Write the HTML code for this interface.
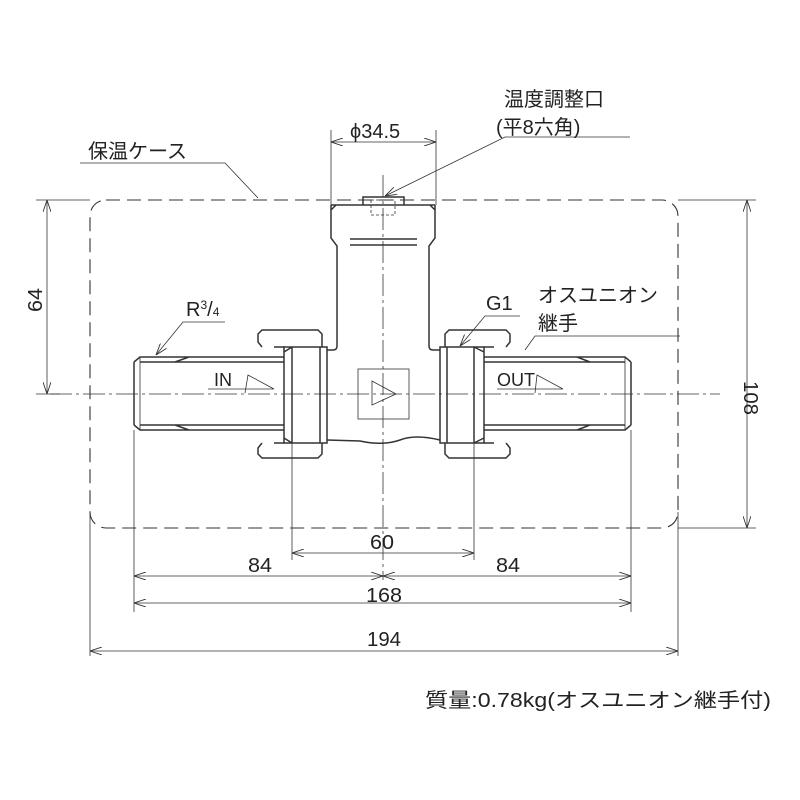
<!DOCTYPE html>
<html><head><meta charset="utf-8"><style>
html,body{margin:0;padding:0;background:#fff}
svg{display:block}
text{font-family:"Liberation Sans","Noto Sans CJK JP",sans-serif;fill:#222}
</style></head><body>
<svg width="800" height="800" viewBox="0 0 800 800" xmlns="http://www.w3.org/2000/svg">
<defs>
<marker id="a" viewBox="0 0 12 8" refX="12" refY="4" markerWidth="12" markerHeight="8" orient="auto-start-reverse" markerUnits="userSpaceOnUse">
<path d="M0,0 L12,4 L0,8" fill="none" stroke="#333" stroke-width="0.9"/></marker>
</defs>
<g fill="none" stroke="#333" stroke-width="1">
<rect x="90" y="200" width="588" height="328" rx="16" stroke-dasharray="14,7" stroke-width="1.1"/>
<line x1="50" y1="394" x2="720" y2="394" stroke-width="0.8" stroke-dasharray="22,4,3,4"/>
<line x1="383" y1="175" x2="383" y2="580" stroke-width="0.8" stroke-dasharray="22,4,3,4"/>
<g stroke-width="1.5">
<path d="M331,210 L336,205 M435,210 L430,205 M331,205 L435,205 M331,205 L331,238 L337,246 L337,346 Q337,350 333,350 L327,350 M435,205 L435,238 L429,246 L429,346 Q429,350 433,350 L440,350"/>
<path d="M363,205 L363,197 L404,197 L404,205"/>
<line x1="350" y1="239" x2="417" y2="239"/><line x1="350" y1="245" x2="417" y2="245"/>
<path d="M327,440 L360,441 Q383,446 400,440 Q415,434 440,440"/>
<path d="M189,357 L284,357 M189,430 L284,430 M134,362 L134,425 M134,362 L140,357 L189,357 M134,425 L140,430 L189,430 M140,362 L284,362 M140,425 L284,425 M175,362 L189,357 M175,425 L189,430"/>
<path d="M262,347 L258,342 L258,334 L262,330 L318,330 L322,334 L322,347 M262,443 L258,448 L258,454 L262,458 L318,458 L322,454 L322,443"/>
<path d="M284,347 L327,347 L327,443 L284,443 Z M292,347 L292,443 M284,352 L292,347 M284,438 L292,443 M320,347 L320,443"/>
<line x1="274" y1="347" x2="284" y2="347"/><line x1="274" y1="443" x2="284" y2="443"/>
<path d="M445,347 L445,334 L449,330 L506,330 L510,334 L510,342 L506,347 M445,443 L445,454 L449,458 L506,458 L510,454 L510,448 L506,443"/>
<path d="M440,347 L484,347 L484,443 L440,443 Z M474,347 L474,443 M484,352 L474,347 M484,438 L474,443 M447,347 L447,443"/>
<line x1="484" y1="347" x2="494" y2="347"/><line x1="484" y1="443" x2="494" y2="443"/>
<path d="M484,357 L577,357 M484,430 L577,430 M631,362 L631,425 M631,362 L625,357 L577,357 M631,425 L625,430 L577,430 M484,362 L625,362 M484,425 L625,425 M590,362 L577,357 M590,425 L577,430"/>
</g>
<line x1="140" y1="357" x2="140" y2="430" stroke-width="0.8"/>
<line x1="625" y1="357" x2="625" y2="430" stroke-width="0.8"/>
<rect x="371" y="200" width="24" height="15" stroke-dasharray="3,2" stroke-width="0.8"/>
<rect x="358" y="369" width="51" height="50" stroke-width="0.8"/>
<path d="M372,381 L396,394 L372,405 Z" stroke-width="0.8"/>
<path d="M208,389 L274,389 L248,375 L245,393" stroke-width="0.8"/>
<path d="M497,389 L563,389 L537,375 L535,393" stroke-width="0.8"/>
<path d="M225,322 L183,322 L156,355" stroke-width="0.8" marker-end="url(#a)"/>
<path d="M520,316 L485,316 L460,346" stroke-width="0.8" marker-end="url(#a)"/>
<path d="M680,336 L535,336 L525,350" stroke-width="0.8"/>
<path d="M630,137 L505,137 L385,196" stroke-width="0.8" marker-end="url(#a)"/>
<path d="M80,163 L225,163 L258,198" stroke-width="0.8"/>
<g stroke-width="0.8">
<line x1="331" y1="130" x2="331" y2="205"/><line x1="436" y1="130" x2="436" y2="205"/>
<line x1="331" y1="142" x2="436" y2="142" marker-start="url(#a)" marker-end="url(#a)"/>
<line x1="36" y1="200" x2="90" y2="200"/><line x1="36" y1="394" x2="60" y2="394"/>
<line x1="47" y1="200" x2="47" y2="394" marker-start="url(#a)" marker-end="url(#a)"/>
<line x1="678" y1="200" x2="756" y2="200"/><line x1="678" y1="528" x2="756" y2="528"/>
<line x1="747" y1="200" x2="747" y2="528" marker-start="url(#a)" marker-end="url(#a)"/>
<line x1="292" y1="443" x2="292" y2="560"/><line x1="474" y1="443" x2="474" y2="560"/>
<line x1="292" y1="553" x2="474" y2="553" marker-start="url(#a)" marker-end="url(#a)"/>
<line x1="134" y1="430" x2="134" y2="612"/><line x1="631" y1="430" x2="631" y2="612"/>
<line x1="134" y1="576" x2="383" y2="576" marker-start="url(#a)" marker-end="url(#a)"/>
<line x1="383" y1="576" x2="631" y2="576" marker-start="url(#a)" marker-end="url(#a)"/>
<line x1="134" y1="603" x2="631" y2="603" marker-start="url(#a)" marker-end="url(#a)"/>
<line x1="90" y1="512" x2="90" y2="656"/><line x1="678" y1="512" x2="678" y2="656"/>
<line x1="90" y1="651" x2="678" y2="651" marker-start="url(#a)" marker-end="url(#a)"/>
</g>
</g>
<g font-size="20">
<text x="504" y="106">温度調整口</text>
<text x="496" y="134">(平8六角)</text>
<text x="350" y="138">ϕ34.5</text>
<text x="88" y="158">保温ケース</text>
<text x="538" y="302">オスユニオン</text>
<text x="538" y="330">継手</text>
<text x="486" y="310">G1</text>
<text x="186" y="316">R<tspan font-size="12" dy="-7">3</tspan><tspan dy="7">/</tspan><tspan font-size="12">4</tspan></text>
<text x="214" y="386" font-size="18">IN</text>
<text x="497" y="386" font-size="18" textLength="38" lengthAdjust="spacingAndGlyphs">OUT</text>
<text x="370" y="549" textLength="24" lengthAdjust="spacingAndGlyphs">60</text>
<text x="248" y="572" textLength="24" lengthAdjust="spacingAndGlyphs">84</text>
<text x="496" y="572" textLength="24" lengthAdjust="spacingAndGlyphs">84</text>
<text x="366" y="602" textLength="36" lengthAdjust="spacingAndGlyphs">168</text>
<text x="367" y="646" textLength="34" lengthAdjust="spacingAndGlyphs">194</text>
<text transform="translate(42,312) rotate(-90)" textLength="24" lengthAdjust="spacingAndGlyphs">64</text>
<text transform="translate(744,381) rotate(90)" textLength="34" lengthAdjust="spacingAndGlyphs">108</text>
<text x="425" y="707" textLength="346" lengthAdjust="spacingAndGlyphs">質量:0.78kg(オスユニオン継手付)</text>
</g>
</svg>
</body></html>
